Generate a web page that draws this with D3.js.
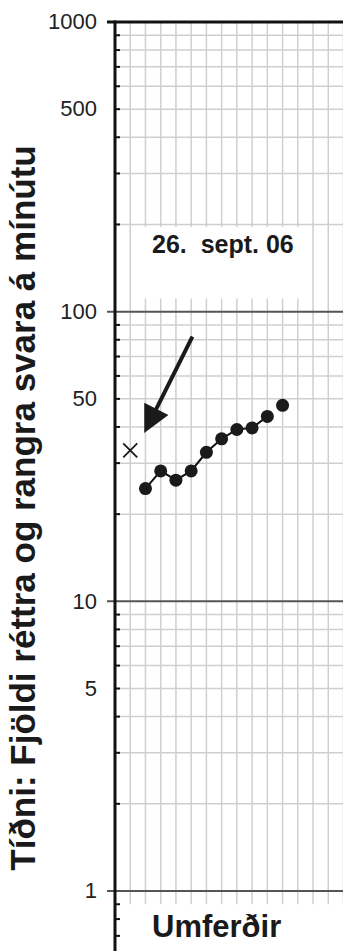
<!DOCTYPE html>
<html>
<head>
<meta charset="utf-8">
<script src="https://cdn.jsdelivr.net/npm/d3@7"></script>
<style>
html,body{margin:0;padding:0;background:#fff;}
svg{display:block;font-family:"Liberation Sans",Arial,Helvetica,sans-serif;}
</style>
</head>
<body>
<svg id="chart" width="343" height="951"></svg>
<script>
// ---- data ----
const sessions = [2, 3, 4, 5, 6, 7, 8, 9, 10, 11];
const correctPerMin = [24.5, 28.2, 26.2, 28.2, 32.7, 36.4, 39.2, 39.7, 43.5, 47.5];
const connectedCount = 9;            // first 9 points joined by a line
const errorSessions = [1];
const errorsPerMin = [33.2];
const yTickLabels = [1, 5, 10, 50, 100, 500, 1000];
const yMajor = [1, 10, 100, 1000];
const dateLabel = "26.  sept. 06";
const yTitle = "Tíðni: Fjöldi réttra og rangra svara á mínútu";
const xTitle = "Umferðir";
// arrow annotation (data units): from -> to
const arrowFrom = {x: 5.08, v: 82};
const arrowTo = {x: 1.92, v: 38.1};

// ---- scales ----
const svg = d3.select("#chart");
const W = 343, H = 951;
const y = d3.scaleLog().domain([1, 1000]).range([891, 22]);
const x = d3.scaleLinear().domain([0, 15]).range([115, 343.5]);
const axisX = x(0);

// minor values
const minorAll = [];
[0.1, 1, 10, 100].forEach(d => { for (let k = 2; k <= 9; k++) minorAll.push(d * k); });
const minorTicks = minorAll.filter(v => v >= 0.6 && v < 1000);
const minorGrid = minorAll.filter(v => v > 1 && v < 1000);

const g = svg.append("g");

// vertical grid
g.append("g").selectAll("line").data(d3.range(1, 16)).join("line")
  .attr("x1", d => x(d)).attr("x2", d => x(d))
  .attr("y1", y(1000)).attr("y2", y(0.9))
  .attr("stroke", "#cfcfcf").attr("stroke-width", 1.5);

// horizontal minor grid
g.append("g").selectAll("line").data(minorGrid).join("line")
  .attr("x1", axisX).attr("x2", W)
  .attr("y1", d => y(d)).attr("y2", d => y(d))
  .attr("stroke", "#cfcfcf").attr("stroke-width", 1.5);

// white label box
g.append("rect")
  .attr("x", x(1.18)).attr("width", x(12.8) - x(1.18))
  .attr("y", y(196)).attr("height", y(111) - y(196))
  .attr("fill", "#fff");

g.append("text")
  .attr("x", 152).attr("y", 253)
  .attr("font-size", 25).attr("font-weight", "bold")
  .attr("fill", "#1a1a1a")
  .style("white-space", "pre")
  .text(dateLabel);

// major lines
g.append("g").selectAll("line").data(yMajor).join("line")
  .attr("x1", axisX - 8).attr("x2", W)
  .attr("y1", d => y(d)).attr("y2", d => y(d))
  .attr("stroke", d => d === 1000 ? "#111" : "#555")
  .attr("stroke-width", d => d === 1000 ? 3 : 2);

// y axis line
g.append("line")
  .attr("x1", axisX).attr("x2", axisX)
  .attr("y1", y(1000) - 1.5).attr("y2", H)
  .attr("stroke", "#111").attr("stroke-width", 3);

// minor ticks (inward)
g.append("g").selectAll("line").data(minorTicks).join("line")
  .attr("x1", axisX).attr("x2", axisX + 5)
  .attr("y1", d => y(d)).attr("y2", d => y(d))
  .attr("stroke", "#111").attr("stroke-width", 2);

// tick labels
g.append("g").selectAll("text").data(yTickLabels).join("text")
  .attr("x", 97).attr("y", d => y(d))
  .attr("dy", "0.33em")
  .attr("text-anchor", "end")
  .attr("font-size", 22).attr("fill", "#222")
  .text(d => d);

// y title
g.append("text")
  .attr("transform", `translate(35,${508}) rotate(-90)`)
  .attr("text-anchor", "middle")
  .attr("font-size", 35).attr("font-weight", "bold")
  .attr("fill", "#1a1a1a")
  .text(yTitle);

// x title
g.append("text")
  .attr("x", 152).attr("y", 937)
  .attr("font-size", 31).attr("font-weight", "bold")
  .attr("fill", "#1a1a1a")
  .text(xTitle);

// data line
const pts = sessions.map((s, i) => [x(s), y(correctPerMin[i])]);
g.append("path")
  .attr("d", d3.line()(pts.slice(0, connectedCount)))
  .attr("fill", "none").attr("stroke", "#111").attr("stroke-width", 2);

g.append("g").selectAll("circle").data(pts).join("circle")
  .attr("cx", d => d[0]).attr("cy", d => d[1]).attr("r", 6.5)
  .attr("fill", "#1a1a1a");

// error marks (x)
const s = 7;
errorSessions.forEach((es, i) => {
  const cx = x(es), cy = y(errorsPerMin[i]);
  g.append("path")
    .attr("d", `M${cx - s},${cy - s}L${cx + s},${cy + s}M${cx - s},${cy + s}L${cx + s},${cy - s}`)
    .attr("stroke", "#1a1a1a").attr("stroke-width", 1.8).attr("fill", "none");
});

// arrow
const ax0 = x(arrowFrom.x), ay0 = y(arrowFrom.v);
const ax1 = x(arrowTo.x), ay1 = y(arrowTo.v);
const dx = ax1 - ax0, dy = ay1 - ay0, len = Math.hypot(dx, dy);
const ux = dx / len, uy = dy / len;
const headLen = 27, headW = 13.5;
const bx = ax1 - ux * headLen, by = ay1 - uy * headLen;
g.append("line")
  .attr("x1", ax0).attr("y1", ay0)
  .attr("x2", bx + ux * 2).attr("y2", by + uy * 2)
  .attr("stroke", "#1a1a1a").attr("stroke-width", 4);
g.append("path")
  .attr("d", `M${ax1},${ay1}L${bx - uy * headW},${by + ux * headW}L${bx + uy * headW},${by - ux * headW}Z`)
  .attr("fill", "#1a1a1a");
</script>
</body>
</html>
